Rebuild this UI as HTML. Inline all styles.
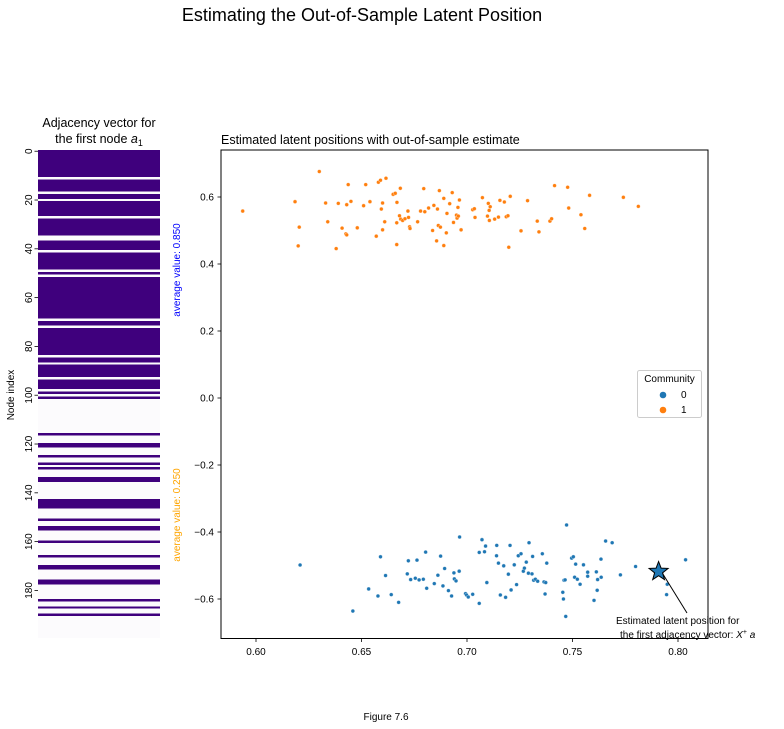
<!DOCTYPE html>
<html><head><meta charset="utf-8"><style>
body{margin:0;background:#fff;}
svg{display:block;font-family:"Liberation Sans",sans-serif;}
</style></head><body>
<svg id="fig" width="784" height="729" viewBox="0 0 784 729">
<rect width="784" height="729" fill="#fff"/>
<text x="362" y="21" font-size="18" text-anchor="middle">Estimating the Out-of-Sample Latent Position</text>
<text x="99" y="127" font-size="12.5" text-anchor="middle">Adjacency vector for</text>
<text x="99" y="143" font-size="12.5" text-anchor="middle">the first node <tspan font-style="italic">a</tspan><tspan font-size="9" dy="3">1</tspan></text>
<g id="heat" shape-rendering="crispEdges"></g>
<g id="heatAxis"></g>
<text transform="translate(14,395) rotate(-90)" font-size="10" text-anchor="middle">Node index</text>
<text transform="translate(180,270) rotate(-90)" font-size="10" fill="blue" text-anchor="middle">average value: 0.850</text>
<text transform="translate(180,515) rotate(-90)" font-size="10" fill="orange" text-anchor="middle">average value: 0.250</text>
<text x="221" y="144" font-size="12.5">Estimated latent positions with out-of-sample estimate</text>
<g id="scatter"></g>
<rect x="221" y="150" width="487" height="488.5" fill="none" stroke="#000" stroke-width="1"/>
<g>
<rect x="637.5" y="370.5" width="64" height="47" rx="2" fill="#fff" stroke="#ccc"/>
<text x="669.5" y="382" font-size="10" text-anchor="middle">Community</text>
<circle cx="663" cy="395" r="3.3" fill="#1f77b4"/>
<text x="681" y="398" font-size="10">0</text>
<circle cx="663" cy="410" r="3.3" fill="#ff7f0e"/>
<text x="681" y="413" font-size="10">1</text>
</g>
<text x="616" y="624" font-size="10">Estimated latent position for</text>
<text x="620" y="638" font-size="10">the first adjacency vector: <tspan font-style="italic">X</tspan><tspan font-size="7" dy="-4">+</tspan><tspan dy="4" font-style="italic"> a</tspan></text>
<text x="386" y="720" font-size="10" text-anchor="middle">Figure 7.6</text>
</svg>
<script>
const adjOnes = [0,1,2,3,4,5,6,7,8,9,10,12,13,14,15,16,18,19,21,22,23,24,25,26,28,29,30,31,32,33,34,37,38,39,40,42,43,44,45,46,47,48,50,52,53,54,55,56,57,58,59,60,61,62,63,64,65,66,67,68,70,71,73,74,75,76,77,78,79,80,81,82,83,85,86,88,89,90,91,92,94,95,96,97,99,101,116,120,121,125,128,130,134,135,143,144,145,146,151,154,155,160,166,170,171,176,177,184,187,190];
const heatTicks = [0,20,40,60,80,100,120,140,160,180];
const c1x = [0.5937,0.630,0.6185,0.6205,0.620,0.633,0.634,0.638,0.639,0.6408,0.6426,0.643,0.643,0.6437,0.645,0.648,0.651,0.652,0.654,0.657,0.658,0.659,0.6594,0.660,0.660,0.661,0.6616,0.665,0.666,0.6667,0.6667,0.6668,0.668,0.6684,0.6686,0.6695,0.6706,0.672,0.6723,0.6728,0.673,0.6766,0.678,0.6795,0.680,0.6818,0.6837,0.6843,0.6856,0.686,0.6864,0.6869,0.6874,0.689,0.689,0.6902,0.6905,0.6918,0.6930,0.6936,0.695,0.6953,0.6957,0.6959,0.6964,0.6972,0.7027,0.7035,0.7038,0.7073,0.7097,0.7101,0.7105,0.7106,0.711,0.7131,0.7149,0.7156,0.7177,0.7186,0.7194,0.7198,0.7205,0.7256,0.7287,0.7333,0.7341,0.7393,0.7401,0.7415,0.7477,0.7482,0.754,0.7558,0.7581,0.7741,0.7812];
const c1y = [0.558,0.676,0.586,0.510,0.454,0.582,0.526,0.446,0.581,0.507,0.490,0.487,0.577,0.637,0.587,0.508,0.574,0.637,0.586,0.483,0.644,0.650,0.564,0.502,0.582,0.526,0.656,0.608,0.611,0.458,0.523,0.584,0.544,0.626,0.534,0.530,0.535,0.558,0.539,0.511,0.506,0.526,0.558,0.625,0.556,0.567,0.500,0.575,0.469,0.564,0.515,0.619,0.510,0.596,0.455,0.493,0.551,0.580,0.613,0.524,0.546,0.537,0.569,0.543,0.591,0.502,0.562,0.565,0.539,0.598,0.543,0.581,0.560,0.530,0.571,0.534,0.540,0.590,0.585,0.541,0.544,0.450,0.602,0.499,0.589,0.528,0.496,0.528,0.535,0.634,0.629,0.567,0.547,0.506,0.605,0.599,0.572];
const c0x = [0.6209,0.6459,0.6534,0.6578,0.659,0.6614,0.6641,0.6676,0.6717,0.6722,0.6733,0.6755,0.6763,0.6773,0.6793,0.6804,0.6809,0.6845,0.6862,0.6875,0.6886,0.6894,0.6912,0.6927,0.6938,0.694,0.6948,0.6963,0.6965,0.6993,0.6998,0.7006,0.7027,0.7058,0.7058,0.7071,0.7083,0.7088,0.7094,0.714,0.7141,0.7149,0.7158,0.7174,0.7183,0.7196,0.7204,0.7209,0.7224,0.7235,0.7243,0.7256,0.7267,0.7272,0.7281,0.7291,0.7294,0.7308,0.7311,0.7316,0.7324,0.7335,0.7357,0.7365,0.737,0.7373,0.7378,0.7454,0.7457,0.7460,0.7465,0.7468,0.7472,0.7496,0.7504,0.7510,0.7515,0.7523,0.7536,0.7552,0.7572,0.7572,0.7602,0.7613,0.7617,0.7619,0.7635,0.7636,0.7657,0.7688,0.7727,0.7799,0.7949,0.7946,0.8036];
const c0y = [-0.4985,-0.636,-0.570,-0.591,-0.474,-0.530,-0.587,-0.610,-0.525,-0.486,-0.542,-0.538,-0.484,-0.543,-0.541,-0.460,-0.568,-0.554,-0.529,-0.472,-0.561,-0.509,-0.575,-0.591,-0.522,-0.540,-0.546,-0.517,-0.415,-0.584,-0.588,-0.594,-0.586,-0.613,-0.461,-0.423,-0.459,-0.442,-0.551,-0.471,-0.440,-0.493,-0.588,-0.501,-0.595,-0.526,-0.440,-0.573,-0.498,-0.557,-0.471,-0.465,-0.517,-0.508,-0.490,-0.523,-0.432,-0.525,-0.473,-0.544,-0.541,-0.547,-0.465,-0.549,-0.585,-0.551,-0.493,-0.580,-0.600,-0.544,-0.543,-0.652,-0.379,-0.478,-0.474,-0.535,-0.496,-0.541,-0.556,-0.498,-0.520,-0.532,-0.604,-0.519,-0.574,-0.542,-0.481,-0.535,-0.427,-0.432,-0.528,-0.503,-0.556,-0.587,-0.483];
const starX = [0.7908];
const starY = [-0.518];
const xTicks = [0.60,0.65,0.70,0.75,0.80];
const xTickLabels = ["0.60","0.65","0.70","0.75","0.80"];
const yTicks = [0.6,0.4,0.2,0.0,-0.2,-0.4,-0.6];
const yTickLabels = ["0.6","0.4","0.2","0.0","\u22120.2","\u22120.4","\u22120.6"];

const NS="http://www.w3.org/2000/svg";
function mk(tag,attrs,parent){const e=document.createElementNS(NS,tag);for(const k in attrs)e.setAttribute(k,attrs[k]);parent.appendChild(e);return e;}
const hTop=150,hBot=638,hL=38,hR=160,nRows=200;
const rowY=i=>hTop+(hBot-hTop)*i/nRows;
const heat=document.getElementById('heat');
const bg=mk('rect',{x:hL,y:hTop,width:hR-hL,height:hBot-hTop,fill:'#fcfbfd'},heat);


const oneSet=new Set(adjOnes);
adjOnes.forEach(i=>{
  const ext=oneSet.has(i+1)?0.8:0;
  const r=mk('rect',{x:hL,y:rowY(i),width:hR-hL,height:rowY(i+1)-rowY(i)+ext,fill:'#3f007d'},heat);
  
  
});
const ha=document.getElementById('heatAxis');
heatTicks.forEach(t=>{
  const y=rowY(t+0.5);
  const l=mk('line',{x1:hL-3.5,x2:hL,y1:y,y2:y,stroke:'#000','stroke-width':0.8},ha);
  
  
  const tx=mk('text',{transform:`translate(${hL-6},${y}) rotate(-90)`,'font-size':10,'text-anchor':'middle'},ha);
  tx.textContent=t;
  
  
});
const sx=v=>256+(v-0.6)*2110;
const sy=v=>398-v*335;
const sc=document.getElementById('scatter');
xTicks.forEach((t,i)=>{
  const x=sx(t);
  const l=mk('line',{x1:x,x2:x,y1:638.5,y2:642,stroke:'#000','stroke-width':0.8},sc);
  
  
  const tx=mk('text',{x:x,y:655,'font-size':10,'text-anchor':'middle'},sc);
  tx.textContent=xTickLabels[i];
  
  
});
yTicks.forEach((t,i)=>{
  const y=sy(t);
  const l=mk('line',{x1:217.5,x2:221,y1:y,y2:y,stroke:'#000','stroke-width':0.8},sc);
  
  
  const tx=mk('text',{x:214,y:y+3.5,'font-size':10,'text-anchor':'end'},sc);
  tx.textContent=yTickLabels[i];
  
  
});
c1x.forEach((v,i)=>{
  const c=mk('circle',{cx:sx(v),cy:sy(c1y[i]),r:1.9,fill:'#ff7f0e',stroke:'#fff','stroke-width':0.3},sc);
  
  
});
c0x.forEach((v,i)=>{
  const c=mk('circle',{cx:sx(v),cy:sy(c0y[i]),r:1.9,fill:'#1f77b4',stroke:'#fff','stroke-width':0.3},sc);
  
  
});
starX.forEach((v,i)=>{
  const cx=sx(v),cy=sy(starY[i]);let pts=[];
  for(let k=0;k<10;k++){const a=-Math.PI/2+k*Math.PI/5,r=k%2?4.2:10;pts.push((cx+r*Math.cos(a)).toFixed(1)+','+(cy+r*Math.sin(a)).toFixed(1));}
  const s=mk('polygon',{points:pts.join(' '),fill:'#1f77b4',stroke:'#000','stroke-width':1},sc);
  
  
  const ar=mk('line',{x1:687,y1:613,x2:cx+4,y2:cy+2,stroke:'#000','stroke-width':1},sc);
  
  
});
</script>
</body></html>
